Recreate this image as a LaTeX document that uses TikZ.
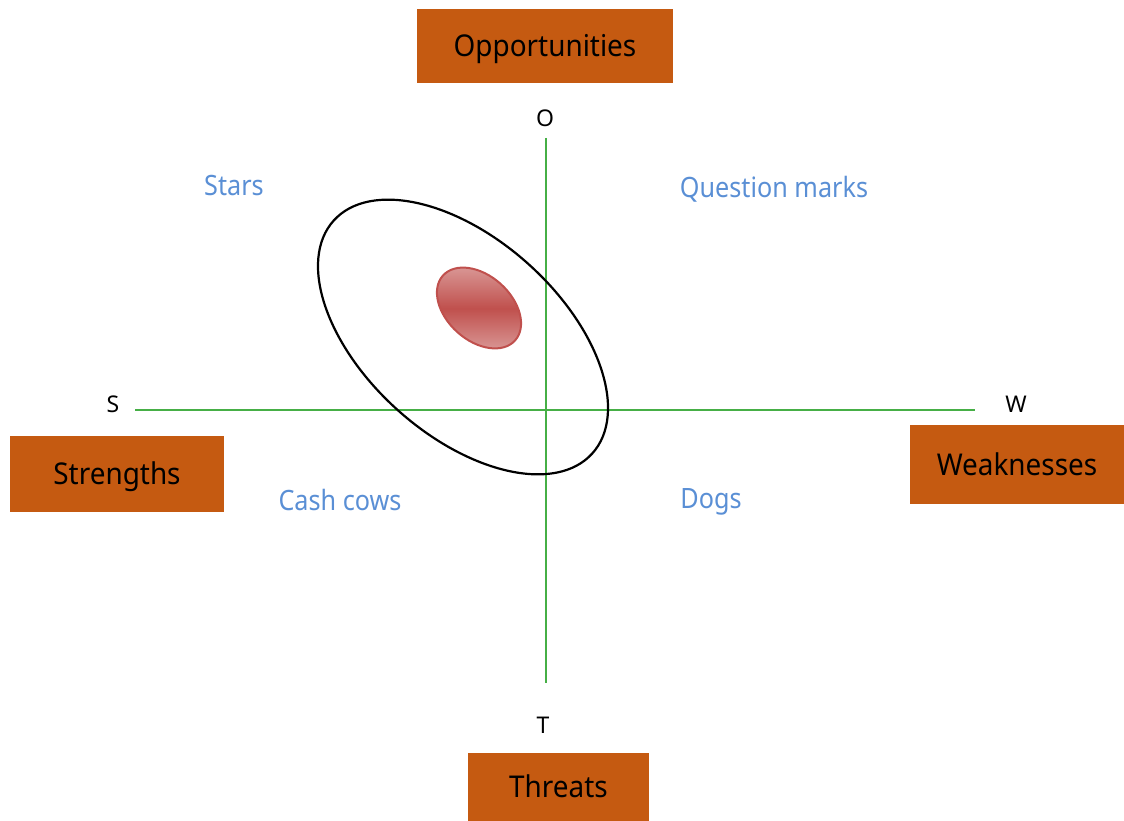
\documentclass[tikz,border=0pt]{standalone}
\usepackage{fontspec}
\setmainfont{Noto Sans}
\newfontfamily\boxfont[FakeStretch=0.93]{Noto Sans}
\newfontfamily\labfont[FakeStretch=0.9]{Noto Sans}
\definecolor{swotorange}{HTML}{C55A11}
\definecolor{quadblue}{HTML}{5A8FD5}
\definecolor{axisgreen}{HTML}{46AF46}
\definecolor{redmid}{HTML}{C0504D}
\definecolor{redlight}{HTML}{DA9A98}
\tikzset{
  swotbox/.style={fill=swotorange, inner sep=0pt, text=black,
    font=\boxfont\fontsize{30}{36}\selectfont, text height=21.5pt, text depth=0pt},
  quadlabel/.style={inner sep=0pt, anchor=base, text=quadblue,
    font=\labfont\fontsize{28}{34}\selectfont},
  axletter/.style={inner sep=0pt, anchor=base, text=black,
    font=\fontsize{23}{28}\selectfont},
  axisline/.style={draw=axisgreen, line width=1.2pt},
  bigell/.style={draw=black, line width=2.2pt},
}
\begin{document}
\begin{tikzpicture}[x=1pt, y=-1pt]
\useasboundingbox (0,0) rectangle (1124,821);
% axes
\coordinate (otop) at (546,138);
\coordinate (tbot) at (546,683);
\coordinate (sleft) at (135,410);
\coordinate (wright) at (975,410);
\draw[axisline] (otop) -- (tbot);
\draw[axisline] (sleft) -- (wright);
% big ellipse
\draw[bigell, rotate around={-42:(463,337)}] (463,337) ellipse [x radius=174pt, y radius=98pt];
% red ellipse
\begin{scope}
\clip[rotate around={-42:(479,308)}] (479,308) ellipse [x radius=48.5pt, y radius=32.4pt];
\shade[top color=redlight, bottom color=redlight, middle color=redmid] (425,265) rectangle (533,352);
\end{scope}
\draw[draw=redmid, line width=2pt, rotate around={-42:(479,308)}] (479,308) ellipse [x radius=48.5pt, y radius=32.4pt];
% boxes
\node[swotbox, minimum width=256pt, minimum height=74pt] (opp) at (545,46) {Opportunities};
\node[swotbox, minimum width=214pt, minimum height=76pt] (str) at (117,474) {Strengths};
\node[swotbox, minimum width=214pt, minimum height=79pt] (weak) at (1017,464.5) {Weaknesses};
\node[swotbox, minimum width=181pt, minimum height=68pt] (thr) at (558.5,787) {Threats};
% axis letters
\node[axletter] (lo) at (545,127) {O};
\node[axletter] (ls) at (113,412) {S};
\node[axletter] (lw) at (1016,412) {W};
\node[axletter] (lt) at (543,733) {T};
% quadrant labels
\node[quadlabel] (stars) at (234,196) {Stars};
\node[quadlabel] (qm) at (774,197) {Question marks};
\node[quadlabel] (cash) at (340,510) {Cash cows};
\node[quadlabel] (dogs) at (711,508) {Dogs};
\end{tikzpicture}
\end{document}
